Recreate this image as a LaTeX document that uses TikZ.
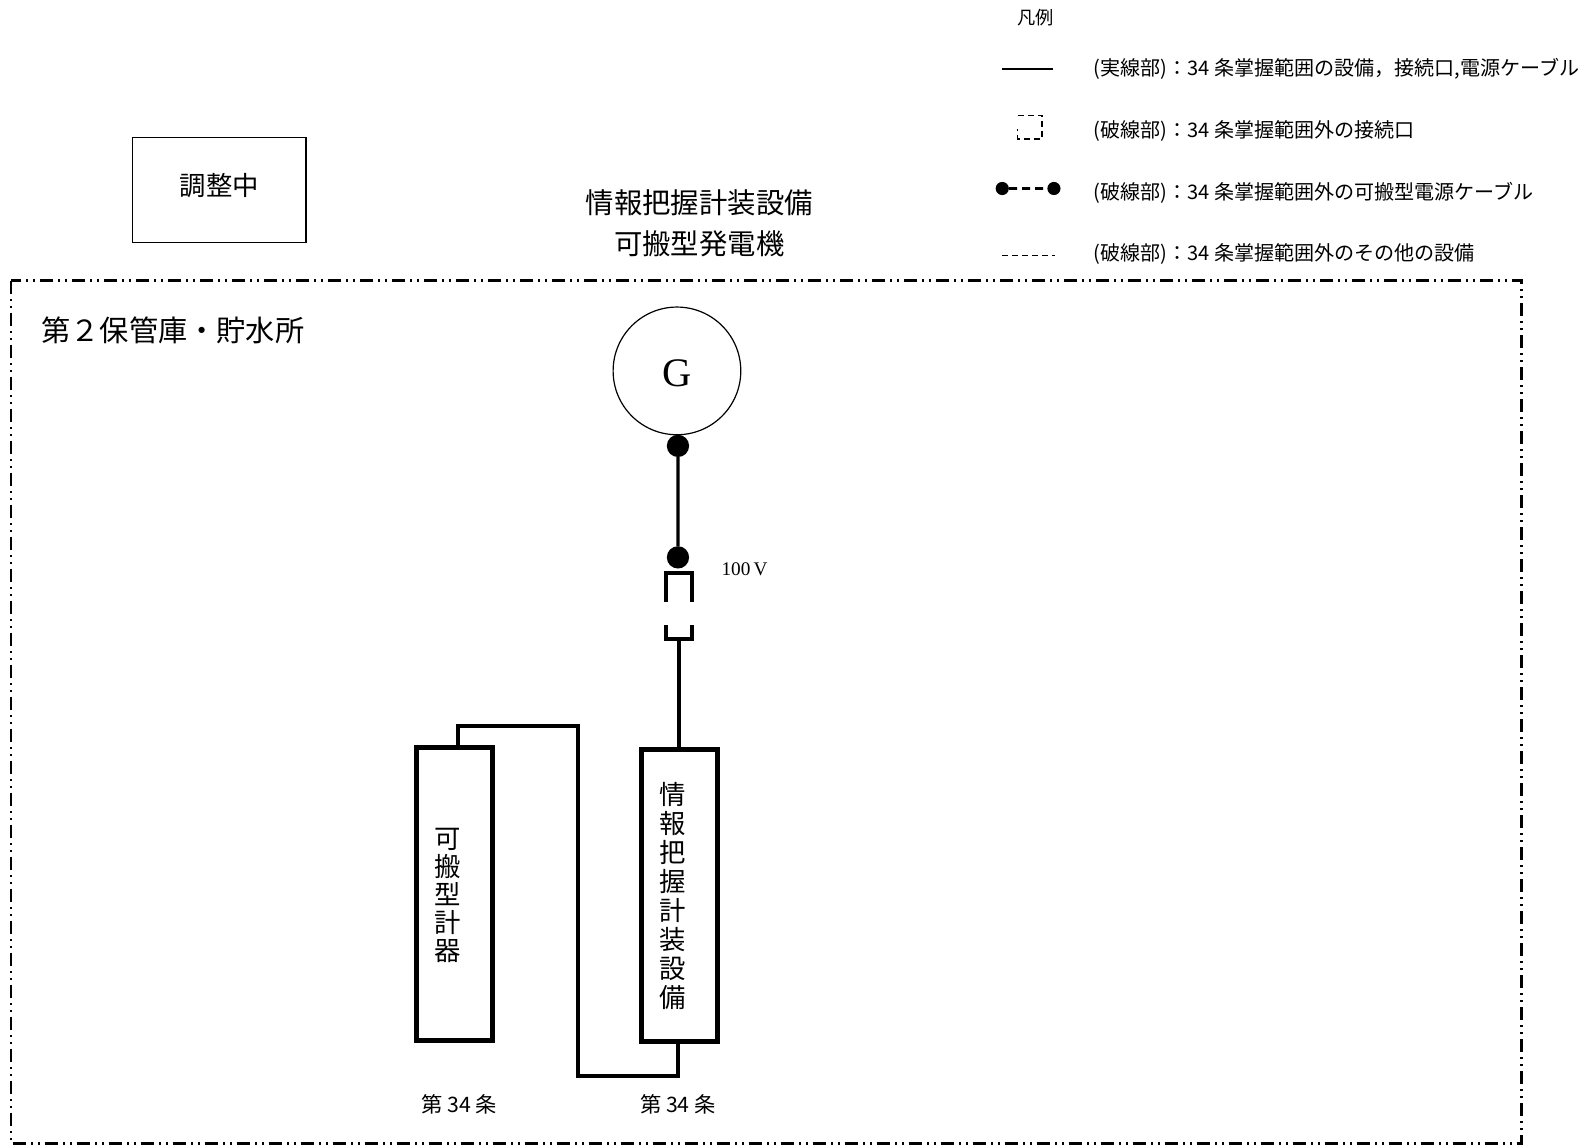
\documentclass[tikz,border=0pt]{standalone}
\usepackage{fontspec}
\newfontfamily\cjk{Noto Sans CJK JP}
\newfontfamily\tms{Liberation Serif}
\tikzset{
  every node/.style={inner sep=0pt, outer sep=0pt},
  frame/.style={line width=1.3pt, dash pattern=on 6.5pt off 2.5pt on 1pt off 2.5pt on 1pt off 2.5pt},
  devbox/.style={draw, line width=2.5pt, rectangle},
  cable/.style={line width=2pt},
  thin/.style={line width=1.6pt},
  plug/.style={line width=2pt},
  dotc/.style={fill=black, circle, minimum size=11pt},
  legtxt/.style={font=\cjk\fontsize{9.9}{11}\selectfont, anchor=west},
}
\begin{document}
\begin{tikzpicture}[x=0.5pt,y=-0.5pt]
\useasboundingbox (0,0) rectangle (1589,1145);
\begin{scope}[scale=1.0134, transform shape]
% adjusting box
\node[draw, line width=0.6pt, minimum width=85.5pt, minimum height=51.5pt] (adj) at (216.5,187.5) {};
\node[font=\cjk\fontsize{13}{15}\selectfont] (adjt) at (216.5,183) {調整中};
% title
\node[font=\cjk\fontsize{14}{16}\selectfont] (t1) at (690,200) {情報把握計装設備};
\node[font=\cjk\fontsize{14}{16}\selectfont] (t2) at (690,241) {可搬型発電機};
% legend
\node[font=\cjk\fontsize{9}{10}\selectfont] (leg) at (1022,17) {凡例};
\coordinate (l1a) at (989,68); \coordinate (l1b) at (1039,68);
\draw[line width=0.7pt] (l1a) -- (l1b);
\node[legtxt] (lt1) at (1079,68) {(実線部)：34 条掌握範囲の設備，接続口,電源ケーブル};
\coordinate (l2a) at (1004,114); \coordinate (l2b) at (1028,114); \coordinate (l2c) at (1028,137); \coordinate (l2d) at (1004,137); \coordinate (l2e) at (1004,127);
\draw[line width=0.7pt, dash pattern=on 3pt off 2pt] (l2a) -- (l2b) -- (l2c) -- (l2d) -- (l2e);
\node[legtxt] (lt2) at (1079,129) {(破線部)：34 条掌握範囲外の接続口};
\node[fill=black, circle, minimum size=6.5pt] (l3a) at (989,186) {};
\node[fill=black, circle, minimum size=6.5pt] (l3b) at (1040,186) {};
\draw[line width=1.3pt, dash pattern=on 4pt off 2.5pt] (l3a) -- (l3b);
\node[legtxt] (lt3) at (1079,190) {(破線部)：34 条掌握範囲外の可搬型電源ケーブル};
\coordinate (l4a) at (989,252); \coordinate (l4b) at (1041,252);
\draw[line width=0.6pt, dash pattern=on 3pt off 2pt] (l4a) -- (l4b);
\node[legtxt] (lt4) at (1079,251) {(破線部)：34 条掌握範囲外のその他の設備};
% area frame
\coordinate (f1) at (11,277); \coordinate (f2) at (1501,1128);
\draw[frame] (f1) rectangle (f2);
\node[font=\cjk\fontsize{14.4}{16}\selectfont, anchor=west] (area) at (41,326) {第２保管庫・貯水所};
% generator
\node[draw, circle, line width=0.6pt, minimum size=63pt] (G) at (668,366) {};
\node[font=\tms\fontsize{20}{24}\selectfont] (Gt) at (668,368) {G};
\node[dotc] (d1) at (669,440) {};
\node[dotc] (d2) at (669,550) {};
\draw[thin] (d1) -- (d2);
\node[font=\tms\fontsize{9.5}{11}\selectfont, anchor=west] (v) at (712,562) {100\,V};
% plug / socket
\coordinate (p1) at (657,594); \coordinate (p2) at (657,565); \coordinate (p3) at (683,565); \coordinate (p4) at (683,594);
\draw[plug] (p1) -- (p2) -- (p3) -- (p4);
\coordinate (s1) at (657,617); \coordinate (s2) at (657,630); \coordinate (s3) at (683,630); \coordinate (s4) at (683,617); \coordinate (s5) at (670,630);
\draw[plug] (s1) -- (s2) -- (s3) -- (s4);
% boxes
\node[devbox, minimum width=37.5pt, minimum height=144pt] (info) at (670.5,884) {};
\node[font=\cjk\fontsize{13}{14.3}\selectfont, align=center] (infot) at (664,884) {情\\報\\把\\握\\計\\装\\設\\備};
\node[devbox, minimum width=37.5pt, minimum height=144.5pt] (port) at (448.5,882.5) {};
\node[font=\cjk\fontsize{13}{13.8}\selectfont, align=center] (portt) at (442,884) {可\\搬\\型\\計\\器};
\draw[thin] (s5) -- (s5 |- info.north);
% cable between
\coordinate (c1) at (452,716); \coordinate (c2) at (570,716); \coordinate (c3) at (570,1062); \coordinate (c4) at (669,1062);
\draw[cable] (c1 |- port.north) -- (c1) -- (c2) -- (c3) -- (c4) -- (c4 |- info.south);
% labels
\node[font=\cjk\fontsize{10.5}{12}\selectfont] (a1) at (453,1090) {第 34 条};
\node[font=\cjk\fontsize{10.5}{12}\selectfont] (a2) at (669,1090) {第 34 条};
\end{scope}
\end{tikzpicture}
\end{document}
